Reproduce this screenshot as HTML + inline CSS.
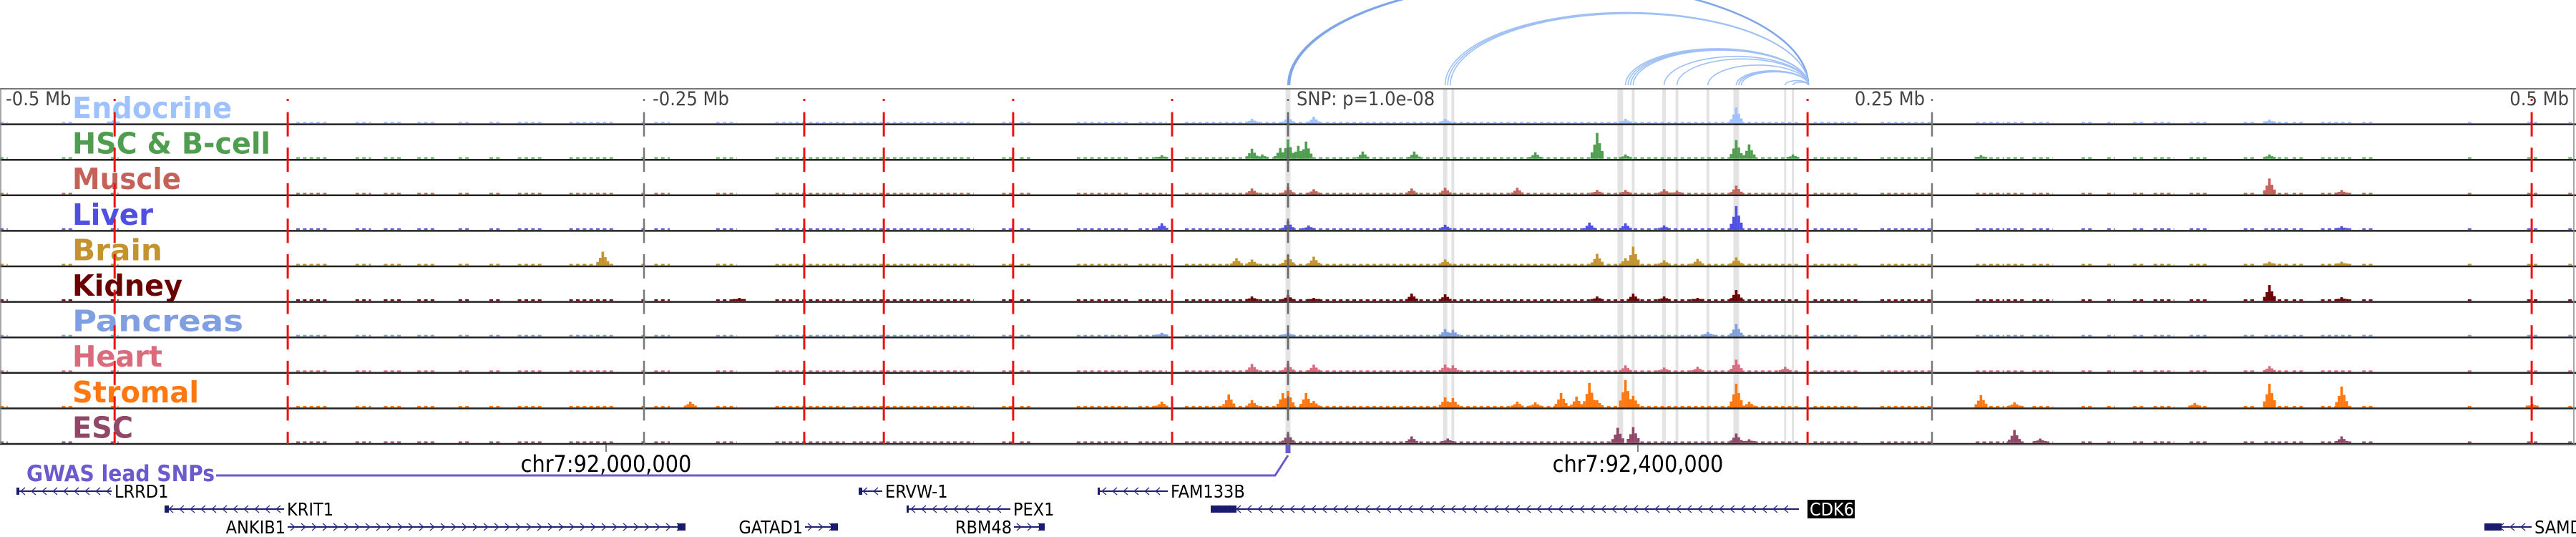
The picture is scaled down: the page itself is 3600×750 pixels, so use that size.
<!DOCTYPE html>
<html><head><meta charset="utf-8"><title>Locus tracks</title>
<style>
html,body{margin:0;padding:0;background:#fff;width:3600px;height:750px;overflow:hidden}
svg{display:block}
.cond{font-family:"DejaVu Sans Condensed","DejaVu Sans","Liberation Sans",sans-serif;font-stretch:condensed}
</style></head>
<body>
<svg id="fig" width="3600" height="750" viewBox="0 0 3600 750" xmlns="http://www.w3.org/2000/svg"></svg>
<script>
// ---- data ----
const trackNames = ["Endocrine","HSC & B-cell","Muscle","Liver","Brain","Kidney","Pancreas","Heart","Stromal","ESC"];
const trackColors = ["#9dc2ff","#4f9e4f","#c4625a","#4f4fe3","#c4922e","#6b0000","#7f9fe0","#d96b7d","#ff7710","#904768"];
const labelWidths = [223,277,152,113,126,154,239,126,177,85];
const peaksEndocrine = [[0,9],[10,9],[-14,6],[61,6],[131,6],[174,22],[381,5],[-456,4]];
const peaksHSC = [[0,27],[-3,15],[7,24],[4,18],[-14,14],[-10,6],[29,10],[49,10],[96,9],[120,36],[131,6],[174,26],[179,20],[196,6],[269,5],[381,6],[-49,5]];
const peaksMuscle = [[0,10],[-14,8],[10,7],[48,8],[61,9],[89,9],[120,6],[131,6],[146,7],[151,5],[174,12],[381,22],[409,6]];
const peaksLiver = [[0,12],[8,6],[61,7],[117,10],[131,9],[146,6],[174,33],[409,5],[-49,9]];
const peaksBrain = [[-20,10],[-14,8],[0,14],[10,12],[61,8],[120,16],[134,26],[131,10],[146,7],[159,9],[174,11],[-266,19],[381,5],[409,5]];
const peaksKidney = [[-14,6],[0,8],[10,4],[48,10],[61,9],[120,6],[134,10],[146,6],[159,4],[174,15],[381,22],[409,5],[-213,4]];
const peaksPancreas = [[0,5],[61,10],[64,9],[163,6],[174,17],[-49,5]];
const peaksHeart = [[-14,11],[0,11],[10,10],[61,10],[64,9],[131,9],[146,6],[159,7],[174,17],[193,7],[381,8]];
const peaksStromal = [[-49,8],[-23,18],[-14,10],[-2,20],[0,23],[7,20],[10,9],[61,14],[64,13],[89,8],[96,7],[106,20],[112,15],[117,34],[120,10],[131,38],[134,16],[174,33],[179,8],[381,33],[409,29],[269,17],[282,7],[352,6],[483,5],[-232,8]];
const peaksESC = [[0,13],[48,9],[62,6],[128,21],[134,22],[174,13],[179,5],[282,18],[292,6],[409,9]];
const trackPeaks = [peaksEndocrine,peaksHSC,peaksMuscle,peaksLiver,peaksBrain,peaksKidney,peaksPancreas,peaksHeart,peaksStromal,peaksESC];
const backgroundSegments = [[-500,-497],[-476,-472],[-457,-454],[-385,-372],[-362,-356],[-351,-344],[-338,-331],[-322,-317],[-310,-306],[-299,-289],[-279,-261],[-251,-249],[-246,-240],[-222,-214],[-199,-172],[-169,-157],[-156,-122],[-111,-106],[-104,-100],[-82,-75],[-74,-61],[-58,-47],[-40,198],[204,221],[230,250],[267,278],[279,286],[289,297],[308,313],[318,321],[328,333],[336,344],[350,357],[371,375],[379,389],[390,394],[401,414],[417,422],[458,460],[481,486],[497,499]];
const arcStarts = [0,0.3,0.6,61,62,63,131,132,133,134,146,151,163,174,175,176,193,196];
const arcAnchor = 202;
const highlightCols = [[0,7],[61,6],[64,4],[129,8],[134,4],[146,5],[151,4],[163,4],[174,8],[193,3],[196,3]];
const boundaryLines = [-455.5,-388.3,-187.8,-156.9,-106.7,-45,201.7,482.8];
const scaleTicks = [-250,250];
const tickLabels = [["-0.5 Mb",8,"start"],["-0.25 Mb",912,"start"],["0.25 Mb",2690,"end"],["0.5 Mb",3590,"end"]];
const coordLabels = [["chr7:92,000,000",847],["chr7:92,400,000",2289]];
const genes = [
 {name:"LRRD1",s:23,e:156,row:0,dir:-1,label:"right",box:[23,27]},
 {name:"ERVW-1",s:1200,e:1233,row:0,dir:-1,label:"right",box:[1200,1205]},
 {name:"FAM133B",s:1534,e:1632,row:0,dir:-1,label:"right",box:[1534,1537]},
 {name:"KRIT1",s:230,e:397,row:1,dir:-1,label:"right",box:[230,236]},
 {name:"PEX1",s:1267,e:1412,row:1,dir:-1,label:"right",box:[1267,1270]},
 {name:"CDK6",s:1692,e:2514,row:1,dir:-1,label:"boxed",box:[1692,1728]},
 {name:"ANKIB1",s:402,e:958,row:2,dir:1,label:"left",box:[947,958]},
 {name:"GATAD1",s:1125,e:1171,row:2,dir:1,label:"left",box:[1161,1171]},
 {name:"RBM48",s:1417,e:1460,row:2,dir:1,label:"left",box:[1452,1460]},
 {name:"SAMD9",s:3472,e:3538,row:2,dir:-1,label:"right",box:[3472,3496]}
];
// ---- scales ----
const X = kb => 1800 + kb*3.6;
const rowTop0 = 124, rowH = 49.6;
const rowTop = i => rowTop0 + i*rowH;
const NS = "http://www.w3.org/2000/svg";
const svg = document.getElementById("fig");
function mk(tag, attrs, parent){const e=document.createElementNS(NS,tag);for(const k in attrs)e.setAttribute(k,attrs[k]);(parent||svg).appendChild(e);return e;}

// arcs
const arcG = mk("g",{});


arcStarts.forEach(s=>{
  const x1=X(s), x2=X(arcAnchor), rx=(x2-x1)/2, ry=rx*0.4;
  const p=mk("path",{d:`M${x1} 119 A${rx} ${ry} 0 0 1 ${x2} 119`,fill:"none",stroke:s<1?"#7fa6e6":"#9ec0f5","stroke-width":s<1?2.2:1.6},arcG);
  
  
});

// highlight columns
const hlG = mk("g",{});


highlightCols.forEach(([kb,w])=>{
  const r=mk("rect",{x:X(kb)-w/2,y:rowTop0+1,width:w,height:rowH*10-1,fill:"#e3e3e3"},hlG);
  
  
});

// tracks
for(let i=0;i<10;i++){
  const g=mk("g",{});
  
  
  const base=rowTop(i+1)-1.5;
  const col=trackColors[i];
  backgroundSegments.forEach(([a,b])=>{
    for(let k=a;k<b;k+=2.6){
      const r=mk("rect",{x:X(k),y:base-2,width:Math.min(5,X(b)-X(k)),height:2,fill:col},g);
      
      
    }
  });
  trackPeaks[i].forEach(([kb,h])=>{
    [[-2,0.25],[-1,0.55],[0,1],[1,0.6],[2,0.3]].forEach(([o,f])=>{
      const hh=Math.max(2.5,h*f);
      const r=mk("rect",{x:X(kb+o)-1.8,y:base-hh,width:3.6,height:hh,fill:col},g);
      
      
    });
  });
  const t=mk("text",{x:101,y:rowTop(i)+41,fill:col,"font-size":41,"font-weight":"bold",class:"cond",textLength:labelWidths[i],lengthAdjust:"spacingAndGlyphs"},g);
  t.textContent=trackNames[i];
  
  
}

// row borders
const bG=mk("g",{});


mk("line",{x1:0,y1:rowTop0,x2:3600,y2:rowTop0,stroke:"#777","stroke-width":2},bG);
for(let i=1;i<=10;i++){ mk("line",{x1:0,y1:rowTop(i),x2:3600,y2:rowTop(i),stroke:"#222","stroke-width":2.5},bG); }
mk("line",{x1:1,y1:rowTop0,x2:1,y2:rowTop(10),stroke:"#888","stroke-width":1.5},bG);
mk("line",{x1:3597,y1:rowTop0,x2:3597,y2:rowTop(10),stroke:"#888","stroke-width":1.5},bG);

// vertical dashed lines
function dashed(kb,color,w,name){
  const g=mk("g",{});
  
  
  for(let i=0;i<=10;i++){
    const y=rowTop(i);
    mk("line",{x1:X(kb),x2:X(kb),y1:Math.max(rowTop0+(i==0?14:0),y-17),y2:Math.min(rowTop(10),y+17),stroke:color,"stroke-width":w},g);
  }
}
boundaryLines.forEach(kb=>dashed(kb,"#ee1111",3,"boundary-line"));
scaleTicks.forEach(kb=>dashed(kb,"#777",2.5,"scale-line"));
dashed(0,"#666",2.5,"snp-line");

// tick labels
tickLabels.forEach(([txt,x,anc])=>{
  const t=mk("text",{x:x,y:147,"font-size":27,fill:"#444","text-anchor":anc,class:"cond"});
  t.textContent=txt;
  
  
});
const snpT=mk("text",{x:1812,y:147,"font-size":27,fill:"#444",class:"cond"});
snpT.textContent="SNP: p=1.0e-08";



// coordinate axis
mk("line",{x1:848,y1:621,x2:3600,y2:621,stroke:"#666","stroke-width":2});
coordLabels.forEach(([txt,x])=>{
  mk("line",{x1:x,y1:621,x2:x,y2:631,stroke:"#555","stroke-width":1.5});
  const t=mk("text",{x:x,y:659,"font-size":32,"text-anchor":"middle",fill:"#000",class:"cond"});
  t.textContent=txt;
  
  
});

// GWAS
const gw=mk("g",{});


const gwT=mk("text",{x:37,y:672,"font-size":31,"font-weight":"bold",fill:"#6a5acd",class:"cond",textLength:263,lengthAdjust:"spacingAndGlyphs"},gw);
gwT.textContent="GWAS lead SNPs";


mk("polyline",{points:`302,664 ${X(0)-18},664 ${X(0)},636`,fill:"none",stroke:"#6a5acd","stroke-width":3},gw);
const snpBox=mk("rect",{x:X(0)-3.5,y:622,width:7,height:11,fill:"#6a5acd"},gw);



// genes
const rowsY=[686,711,736];
genes.forEach(gn=>{
  const g=mk("g",{});
  
  
  const y=rowsY[gn.row];
  mk("line",{x1:gn.s,y1:y,x2:gn.e,y2:y,stroke:"#1f1f70","stroke-width":2},g);
  for(let x=gn.s+8;x<gn.e-4;x+=15){
    const d=gn.dir<0?`M${x+4} ${y-5} L${x-2} ${y} L${x+4} ${y+5}`:`M${x-4} ${y-5} L${x+2} ${y} L${x-4} ${y+5}`;
    mk("path",{d:d,fill:"none",stroke:"#2a2a80","stroke-width":1.3},g);
  }
  mk("rect",{x:gn.box[0],y:y-5,width:gn.box[1]-gn.box[0],height:10,fill:"#1a1a6e"},g);
  if(gn.label==="boxed"){
    mk("rect",{x:gn.e+12,y:y-13,width:66,height:26,fill:"#000"},g);
    const t=mk("text",{x:gn.e+15,y:y+9,"font-size":25,fill:"#fff",class:"cond"},g);
    t.textContent=gn.name;
  }else if(gn.label==="left"){
    const t=mk("text",{x:gn.s-3,y:y+9,"font-size":25,fill:"#000","text-anchor":"end",class:"cond"},g);
    t.textContent=gn.name;
  }else{
    const t=mk("text",{x:gn.e+4,y:y+9,"font-size":25,fill:"#000",class:"cond"},g);
    t.textContent=gn.name;
  }
});
</script>
</body></html>
